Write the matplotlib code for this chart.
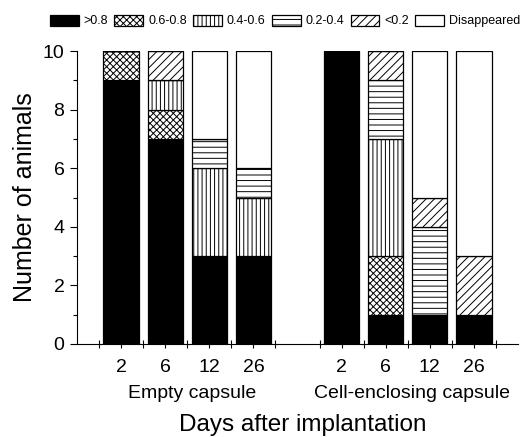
import matplotlib
matplotlib.use("Agg")
import matplotlib.pyplot as plt
import matplotlib.transforms as mtransforms
import numpy as np

plt.rcParams['font.family'] = ['Liberation Sans', 'DejaVu Sans']
plt.rcParams['hatch.linewidth'] = 0.7

# ---- data ----
groups = ['Empty capsule', 'Cell-enclosing capsule']
days = ['2', '6', '12', '26']
series_labels = ['>0.8', '0.6-0.8', '0.4-0.6', '0.2-0.4', '<0.2', 'Disappeared']
gt08 = [9, 7, 3, 3, 10, 1, 1, 1]
s06_08 = [1, 1, 0, 0, 0, 2, 0, 0]
s04_06 = [0, 1, 3, 2, 0, 4, 0, 0]
s02_04 = [0, 0, 1, 1, 0, 2, 3, 0]
lt02 = [0, 1, 0, 0, 0, 1, 1, 2]
disappeared = [0, 0, 3, 4, 0, 0, 5, 7]

series = [gt08, s06_08, s04_06, s02_04, lt02, disappeared]
styles = [
    dict(facecolor='black', hatch=None),
    dict(facecolor='white', hatch='xxxxx'),
    dict(facecolor='white', hatch='||||'),
    dict(facecolor='white', hatch='---'),
    dict(facecolor='white', hatch='////'),
    dict(facecolor='white', hatch=None),
]

fig = plt.figure(figsize=(5.2, 4.37), dpi=100)
ax = fig.add_axes([77 / 520, 1 - 344 / 437, 441 / 520, 293 / 437])

ngroup = len(days)
positions = []
for g in range(len(groups)):
    for i in range(ngroup):
        positions.append(g * (ngroup + 1) + i + 1)
positions = np.array(positions, dtype=float)

bottom = np.zeros(len(positions))
handles = []
for vals, st, lab in zip(series, styles, series_labels):
    vals = np.array(vals, dtype=float)
    b = ax.bar(positions, vals, width=0.8, bottom=bottom, color=st['facecolor'],
               edgecolor='black', linewidth=0.9, hatch=st['hatch'], label=lab)
    bottom += vals
    handles.append(b)

ax.set_xlim(0, 10)
ax.set_ylim(0, 10)
ax.spines['top'].set_visible(False)
ax.spines['right'].set_visible(False)
ax.spines['left'].set_linewidth(0.8)
ax.spines['bottom'].set_linewidth(0.8)

ax.set_xticks(positions)
ax.set_xticklabels(days * len(groups), fontsize=14)
bounds = []
for g in range(len(groups)):
    for i in range(ngroup + 1):
        bounds.append(g * (ngroup + 1) + i + 0.5)
ax.set_xticks(bounds, minor=True)
ax.tick_params(axis='x', which='major', direction='out', length=3, width=0.8, pad=8)
ax.tick_params(axis='x', which='minor', direction='inout', length=6, width=0.8)

ax.set_yticks(np.arange(0, 11, 2))
ax.set_yticks(np.arange(1, 10, 2), minor=True)
ax.tick_params(axis='y', which='major', direction='out', length=5, width=0.8, labelsize=14, pad=4)
ax.tick_params(axis='y', which='minor', direction='out', length=3, width=0.8)

ax.set_ylabel('Number of animals', fontsize=18, labelpad=4)

trans = mtransforms.blended_transform_factory(ax.transData, fig.transFigure)
for g, name in enumerate(groups):
    cx = g * (ngroup + 1) + (ngroup + 1) / 2 + 0.1
    ax.text(cx, 1 - 393 / 437, name, transform=trans, ha='center', va='center', fontsize=14)

fig.text(303 / 520, 1 - 425 / 437, 'Days after implantation', ha='center', va='center', fontsize=17.5)

fig.legend(handles=handles, loc='center', bbox_to_anchor=(285 / 520, 1 - 21 / 437),
           ncol=6, frameon=False, fontsize=9, handlelength=2.3, handleheight=1.0,
           columnspacing=0.5, handletextpad=0.4, borderpad=0.1)

fig.savefig('out.png', dpi=100)
